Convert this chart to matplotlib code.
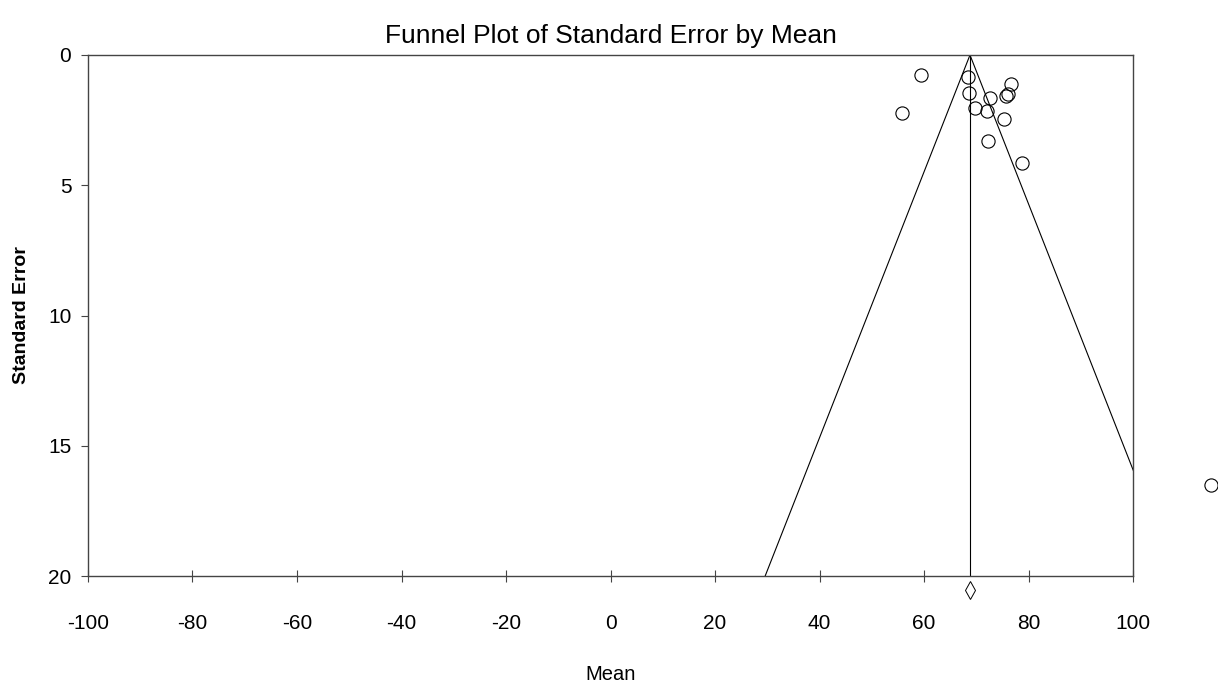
import matplotlib
matplotlib.use("Agg")
import matplotlib.pyplot as plt
import numpy as np

plt.rcParams['font.family'] = ['Liberation Sans', 'DejaVu Sans']

# Study data
study_mean = [59.5, 68.5, 76.7, 68.6, 72.7, 75.7, 76.1, 55.7, 69.7, 72.0, 75.3, 72.2, 78.7, 115.0]
study_se   = [0.77, 0.86, 1.10, 1.45, 1.65, 1.56, 1.50, 2.24, 2.05, 2.15, 2.44, 3.29, 4.13, 16.5]
pooled_mean = 68.8
x_ticks = [-100, -80, -60, -40, -20, 0, 20, 40, 60, 80, 100]
y_ticks = [0, 5, 10, 15, 20]

fig = plt.figure(figsize=(12.18, 6.82), dpi=100)
ax = fig.add_axes([88/1218, 1-576/682, (1133-88)/1218, (576-55)/682])

ax.set_xlim(-100, 100)
ax.set_ylim(20, 0)

# Funnel lines
se_max = 20
ax.plot([pooled_mean - 1.96*se_max, pooled_mean, pooled_mean + 1.96*se_max],
        [se_max, 0, se_max], color='black', lw=0.8)
ax.plot([pooled_mean, pooled_mean], [0, se_max], color='black', lw=0.8)

# Studies
ax.plot(study_mean, study_se, linestyle='none', marker='o', markersize=9.5,
        markerfacecolor='none', markeredgecolor='black', markeredgewidth=0.8,
        clip_on=False)

# Pooled diamond below axis
ax.plot([pooled_mean], [20.55], linestyle='none', marker='d', markersize=9,
        markerfacecolor='none', markeredgecolor='black', markeredgewidth=0.7,
        clip_on=False)

ax.set_xticks(x_ticks)
ax.set_xticklabels([str(t) for t in x_ticks])
ax.set_yticks(y_ticks)
ax.set_yticklabels([str(t) for t in y_ticks])

for s in ax.spines.values():
    s.set_color('#444444')
    s.set_linewidth(1.0)

ax.tick_params(axis='x', direction='inout', length=8, width=0.8, color='#444444',
               pad=23.5, labelsize=15)
ax.tick_params(axis='y', direction='out', length=5, width=0.8, color='#444444',
               pad=7, labelsize=15)

ax.set_title('Funnel Plot of Standard Error by Mean', fontsize=19, pad=9)
ax.set_xlabel('Mean', fontsize=14.5, labelpad=23)
ax.set_ylabel('Standard Error', fontsize=14, fontweight='bold', labelpad=13)

fig.savefig('out.png', dpi=100)
